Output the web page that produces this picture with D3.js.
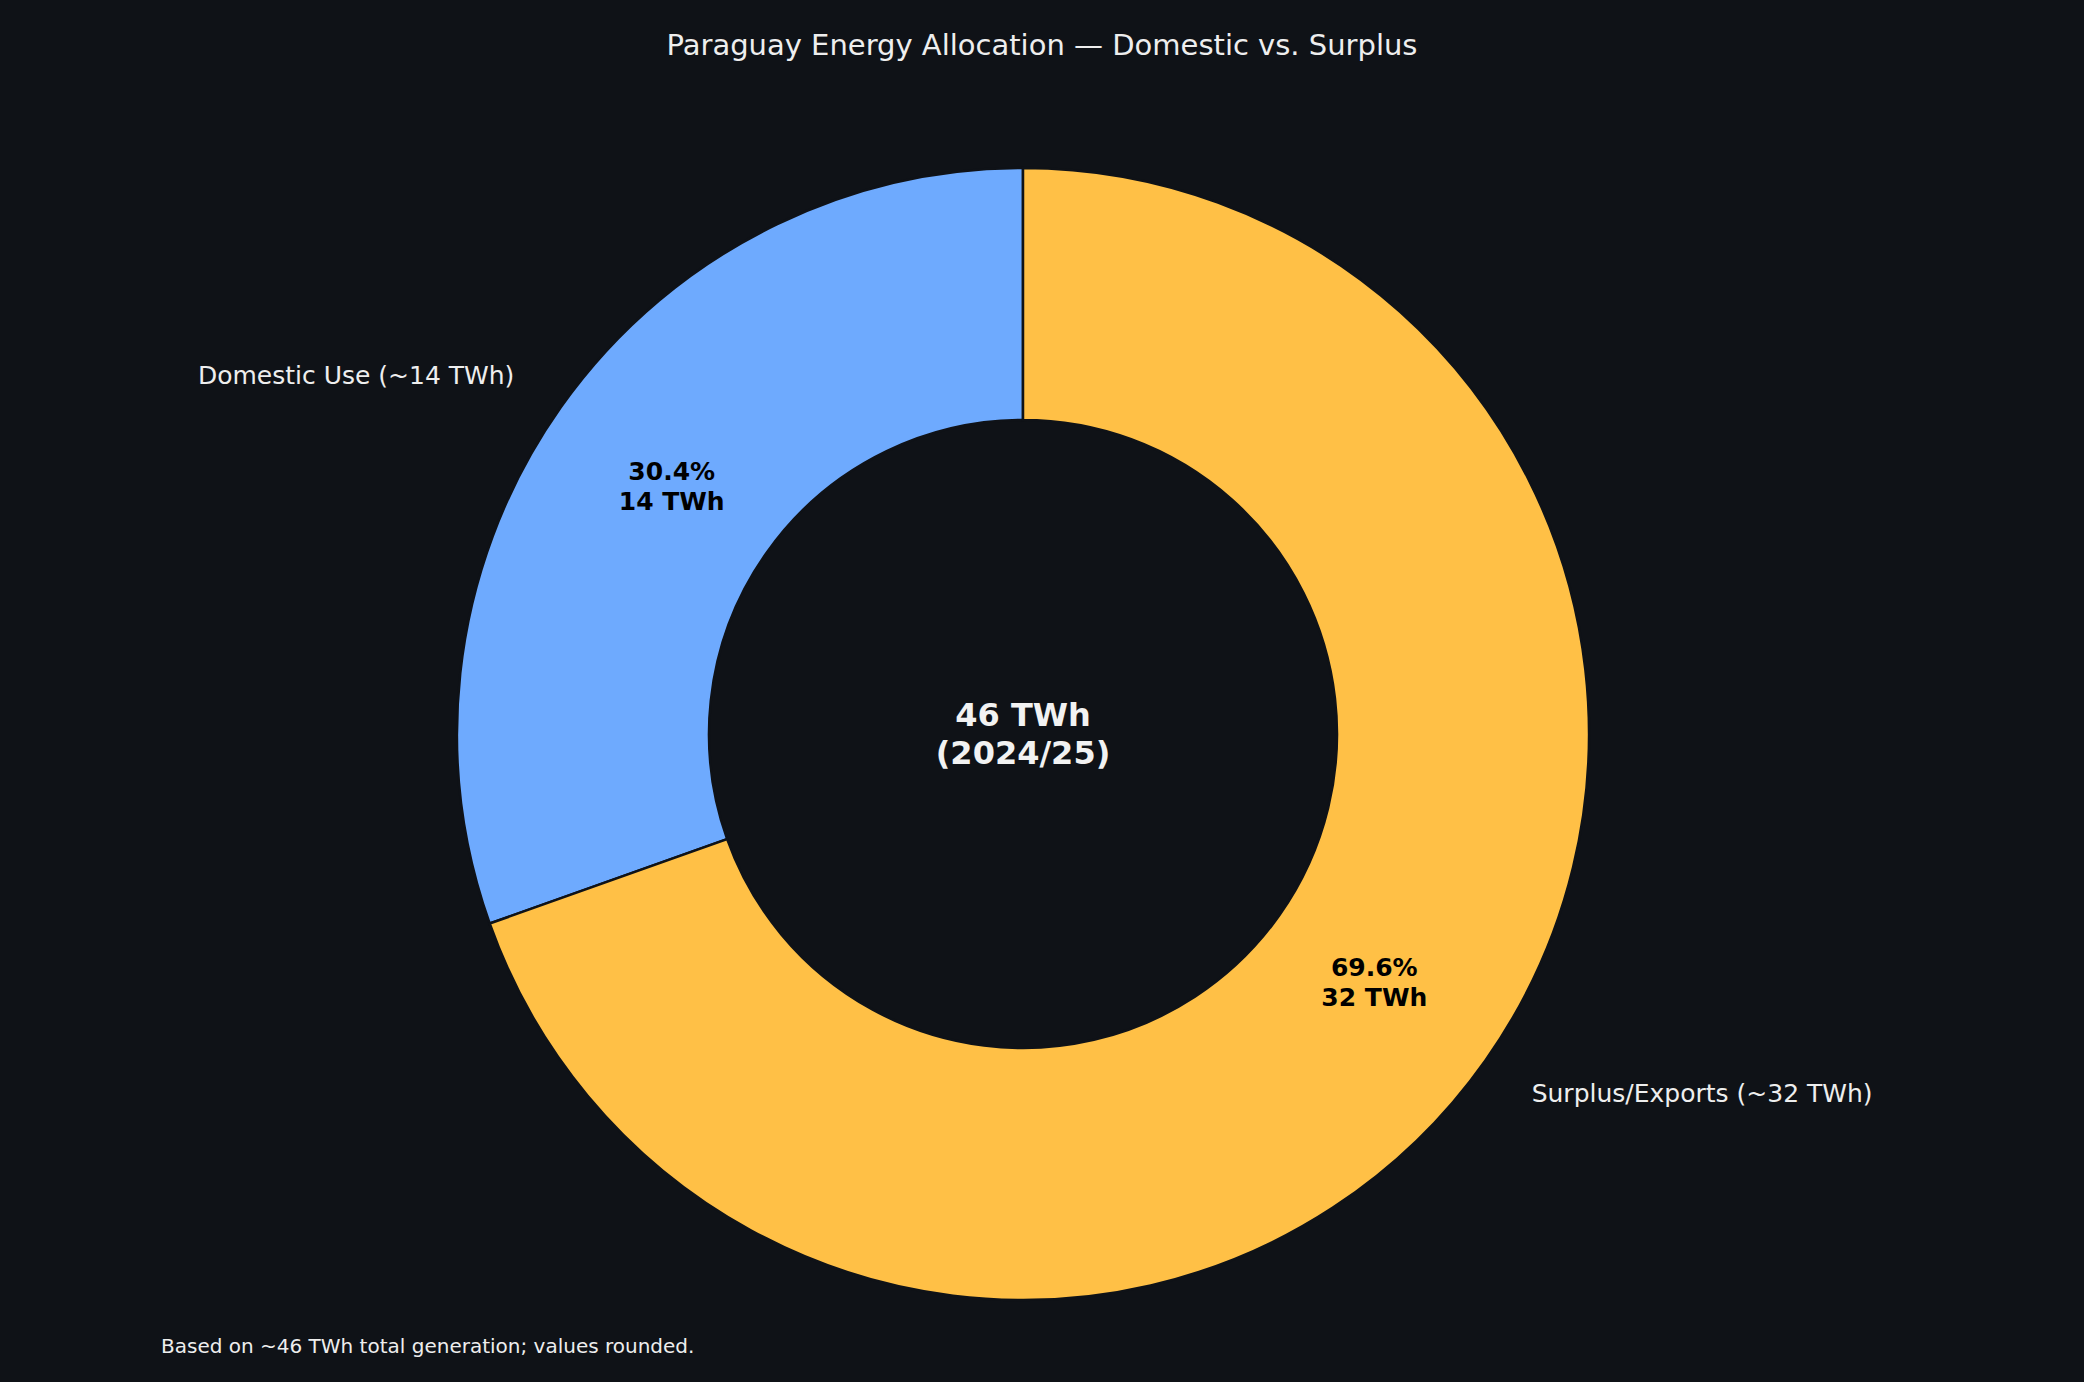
<!DOCTYPE html>
<html><head><meta charset="utf-8">
<script src="https://cdn.jsdelivr.net/npm/d3@7"></script>
<style>
body{margin:0;background:#0f1217;}
svg{display:block;font-family:"DejaVu Sans",sans-serif;}
</style></head>
<body><div id="chart"></div>
<script>
const categories = ['Domestic Use (~14 TWh)', 'Surplus/Exports (~32 TWh)'];
const values = [14, 32];
const innerLabels = ['30.4%\n14 TWh', '69.6%\n32 TWh'];
const colors = ['#6eaafe', '#ffc046'];

const W = 2084, H = 1382, cx = 1023, cy = 734, R = 566, r0 = 314;
const svg = d3.select('#chart').append('svg').attr('width', W).attr('height', H);
svg.append('rect').attr('width', W).attr('height', H).attr('fill', '#0f1217');

svg.append('text').attr('x', W / 2).attr('y', 55).attr('text-anchor', 'middle')
  .style('font-size', '29px').style('fill', '#eeeeee')
  .text('Paraguay Energy Allocation — Domestic vs. Surplus');

const pie = d3.pie().sort(null).startAngle(0).endAngle(-2 * Math.PI);
const arcs = pie(values);
const arc = d3.arc().innerRadius(r0).outerRadius(R);
const g = svg.append('g').attr('transform', `translate(${cx},${cy})`);

g.selectAll('path').data(arcs).enter().append('path')
  .attr('d', arc).attr('fill', (d, i) => colors[i])
  .attr('stroke', '#0f1217').attr('stroke-width', 2.5);

const mid = d => (d.startAngle + d.endAngle) / 2;
arcs.forEach((d, i) => {
  const a = mid(d);
  // percentage labels
  const lr = (R + r0) / 2 - 10;
  const t = g.append('text').attr('text-anchor', 'middle')
    .style('font-size', '25px').style('font-weight', 'bold').style('fill', '#000');
  innerLabels[i].split('\n').forEach((s, k) => {
    t.append('tspan').attr('x', lr * Math.sin(a)).attr('y', -lr * Math.cos(a) + (k - 0.5) * 30 + 9).text(s);
  });
  // outer labels
  const orr = R * 1.1;
  const x = orr * Math.sin(a), y = -orr * Math.cos(a);
  g.append('text').attr('x', x).attr('y', y + 9)
    .attr('text-anchor', x < 0 ? 'end' : 'start')
    .style('font-size', '25px').style('fill', '#eeeeee').text(categories[i]);
});

const c = g.append('text').attr('text-anchor', 'middle')
  .style('font-size', '32px').style('font-weight', 'bold').style('fill', '#f2f2f2');
['46 TWh', '(2024/25)'].forEach((s, k) => {
  c.append('tspan').attr('x', 0).attr('y', (k - 0.5) * 38 + 11).text(s);
});

svg.append('text').attr('x', 161).attr('y', 1353)
  .style('font-size', '20px').style('fill', '#eeeeee')
  .text('Based on ~46 TWh total generation; values rounded.');
</script></body></html>
